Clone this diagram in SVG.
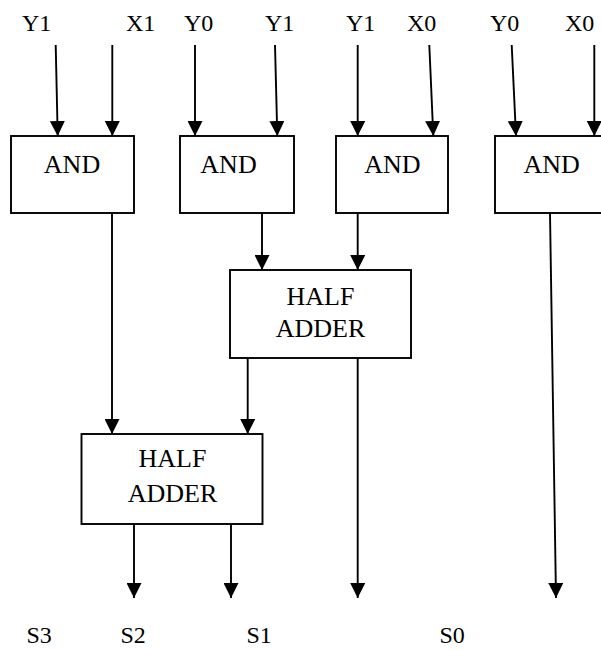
<svg xmlns="http://www.w3.org/2000/svg" width="601" height="650" viewBox="0 0 601 650">
<defs>
<style>
.box{fill:#fff;stroke:#000;stroke-width:1.9}
.t{font-family:"Liberation Serif","Times New Roman",serif;font-size:26px;fill:#000;text-anchor:middle}
.lbl{font-family:"Liberation Serif","Times New Roman",serif;font-size:24px;fill:#000}
.c line{stroke:#000;stroke-width:1.9;marker-end:url(#arr)}
</style>
<marker id="arr" markerUnits="userSpaceOnUse" markerWidth="15" markerHeight="15" refX="15" refY="7.5" orient="auto" viewBox="0 0 15 15">
<path d="M0,0 L15,7.5 L0,15 z" fill="#000"/>
</marker>
</defs>
<rect width="601" height="650" fill="#fff"/>
<g id="labels">
<text class="lbl" x="22" y="31">Y1</text>
<text class="lbl" x="126" y="31">X1</text>
<text class="lbl" x="184" y="31">Y0</text>
<text class="lbl" x="265" y="31">Y1</text>
<text class="lbl" x="346" y="31">Y1</text>
<text class="lbl" x="407" y="31">X0</text>
<text class="lbl" x="490" y="31">Y0</text>
<text class="lbl" x="565" y="31">X0</text>
<text class="lbl" x="26.5" y="643">S3</text>
<text class="lbl" x="120.5" y="643">S2</text>
<text class="lbl" x="246.5" y="643">S1</text>
<text class="lbl" x="439.5" y="643">S0</text>
</g>
<g id="and1"><rect class="box" x="11" y="136" width="123" height="77"/><text class="t" x="72" y="173">AND</text></g>
<g id="and2"><rect class="box" x="180" y="136" width="114" height="77"/><text class="t" x="228.5" y="173">AND</text></g>
<g id="and3"><rect class="box" x="336" y="136" width="112" height="77"/><text class="t" x="392.3" y="173">AND</text></g>
<g id="and4"><rect class="box" x="495" y="136" width="113" height="77"/><text class="t" x="551.7" y="173">AND</text></g>
<g id="ha1"><rect class="box" x="230" y="270" width="181" height="88"/><text class="t" x="320.5" y="305">HALF</text><text class="t" x="320.5" y="336.7">ADDER</text></g>
<g id="ha2"><rect class="box" x="81.5" y="434" width="181" height="90"/><text class="t" x="172.5" y="466.7">HALF</text><text class="t" x="172.5" y="501.7">ADDER</text></g>
<g id="connectors" class="c">
<line x1="55.7" y1="45" x2="57.7" y2="136"/>
<line x1="112.3" y1="45" x2="112.3" y2="136"/>
<line x1="195" y1="45" x2="195" y2="136"/>
<line x1="275" y1="45" x2="277.3" y2="136"/>
<line x1="357.7" y1="45" x2="357.7" y2="136"/>
<line x1="429.3" y1="45" x2="433.3" y2="136"/>
<line x1="511.7" y1="45" x2="516" y2="136"/>
<line x1="594.3" y1="45" x2="594.3" y2="136"/>
<line x1="112" y1="213" x2="112" y2="434"/>
<line x1="262" y1="213" x2="262" y2="270"/>
<line x1="357.7" y1="213" x2="357.7" y2="270"/>
<line x1="247.7" y1="358" x2="247.7" y2="434"/>
<line x1="357.7" y1="358" x2="357.7" y2="598"/>
<line x1="550" y1="213" x2="556" y2="598"/>
<line x1="134" y1="524" x2="134" y2="598"/>
<line x1="231" y1="524" x2="231" y2="598"/>
</g>
</svg>
